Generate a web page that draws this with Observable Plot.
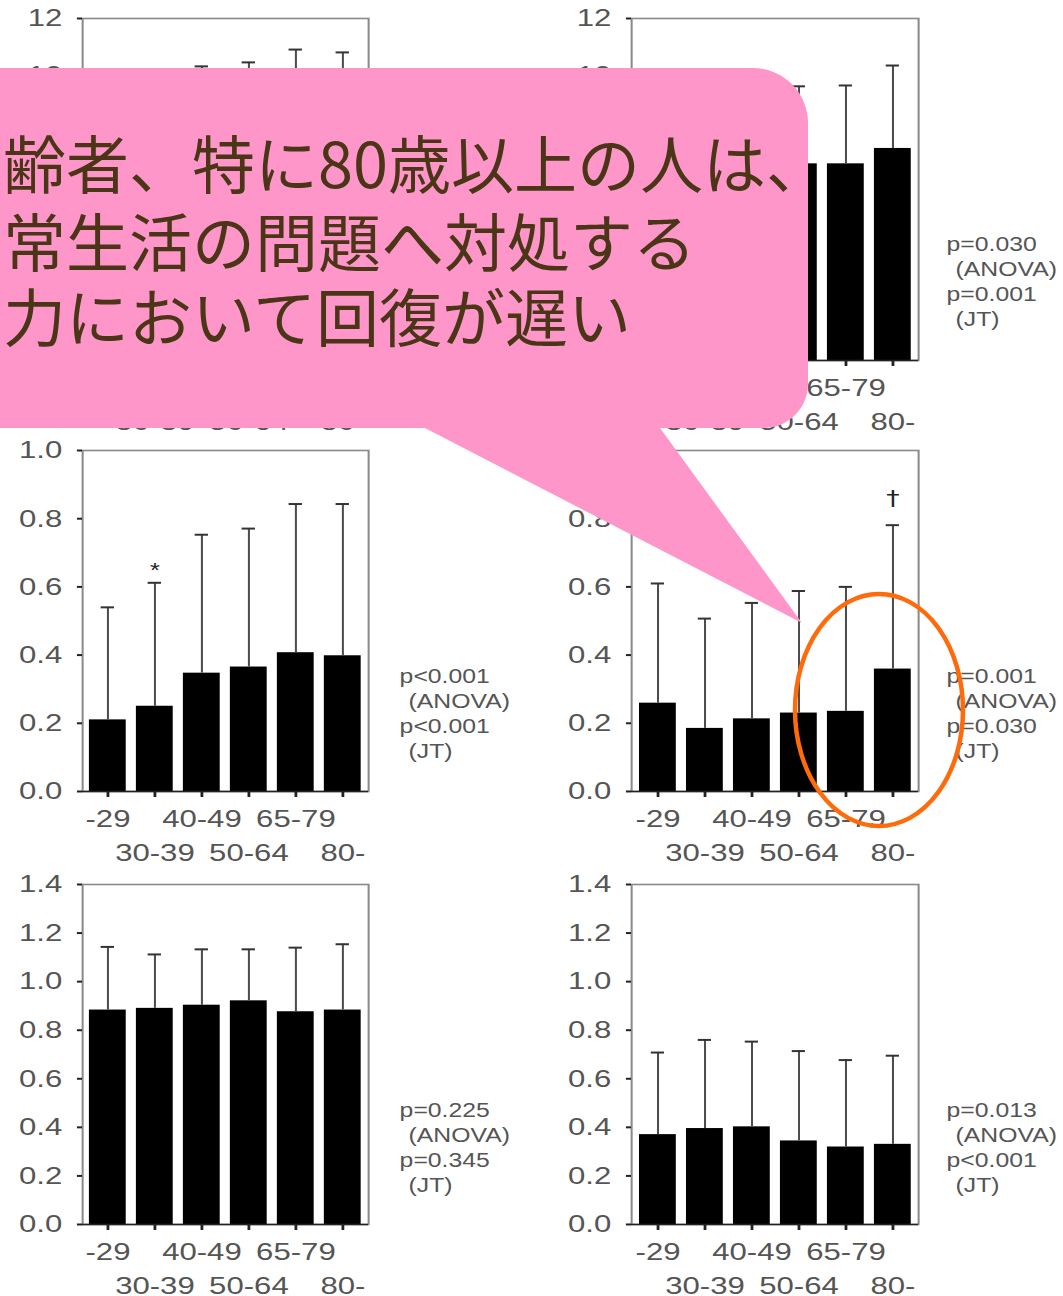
<!DOCTYPE html>
<html>
<head>
<meta charset="utf-8">
<script src="https://cdn.jsdelivr.net/npm/d3@7"></script>
<script src="https://cdn.jsdelivr.net/npm/@observablehq/plot@0.6"></script>
<style>
  html, body { margin: 0; padding: 0; background: #fff; }
  #page { position: relative; width: 1063px; height: 1296px; overflow: hidden; background: #fff; }
  #page svg.panel { position: absolute; transform-origin: 0 0; max-width: none; }
  #overlay { position: absolute; left: 0; top: 0; pointer-events: none; }
</style>
</head>
<body>
<div id="page"></div>
<script>
// ---------- data ----------
const ageGroups = ["-29", "30-39", "40-49", "50-64", "65-79", "80-"];

// top-left panel (mostly hidden behind the callout; estimated)
const topLeftMean = [6.6, 6.9, 7.3, 7.5, 7.9, 7.8];
const topLeftSD   = [3.0, 3.0, 3.02, 2.96, 3.01, 3.01];
// top-right panel
const topRightMean = [6.2, 6.0, 6.5, 6.9, 6.9, 7.44];
const topRightSD   = [2.8, 2.8, 2.8, 2.72, 2.75, 2.91];
const topRightP    = ["p=0.030", "(ANOVA)", "p=0.001", "(JT)"];
// middle-left panel
const midLeftMean = [0.21, 0.25, 0.347, 0.365, 0.407, 0.398];
const midLeftSD   = [0.33, 0.362, 0.406, 0.406, 0.436, 0.445];
const midLeftP    = ["p<0.001", "(ANOVA)", "p<0.001", "(JT)"];
// middle-right panel
const midRightMean = [0.259, 0.185, 0.213, 0.230, 0.235, 0.359];
const midRightSD   = [0.351, 0.322, 0.340, 0.358, 0.365, 0.422];
const midRightP    = ["p=0.001", "(ANOVA)", "p=0.030", "(JT)"];
// bottom-left panel
const botLeftMean = [0.883, 0.890, 0.903, 0.921, 0.876, 0.883];
const botLeftSD   = [0.260, 0.222, 0.230, 0.212, 0.264, 0.271];
const botLeftP    = ["p=0.225", "(ANOVA)", "p=0.345", "(JT)"];
// bottom-right panel
const botRightMean = [0.370, 0.395, 0.402, 0.344, 0.319, 0.330];
const botRightSD   = [0.338, 0.365, 0.351, 0.370, 0.358, 0.365];
const botRightP    = ["p=0.013", "(ANOVA)", "p<0.001", "(JT)"];

// y tick values
const ticksTop = [0, 2, 4, 6, 8, 10, 12];
const ticksTopVisibleLabels = [10, 12]; // the others sit under the callout
const ticksMid = [0, 0.2, 0.4, 0.6, 0.8, 1.0];
const ticksBot = [0, 0.2, 0.4, 0.6, 0.8, 1.0, 1.2, 1.4];

// significance markers
const midLeftMarker  = {group: "30-39", text: "*"};
const midRightMarker = {group: "80-", text: "†"};

// callout text
const calloutLines = ["齢者、特に80歳以上の人は、", "常生活の問題へ対処する", "力において回復が遅い"];

// ---------- layout ----------
const K = 1.27; // horizontal stretch of the original figure
const cols = [
  {svgLeft: 0,   svgWidth: 545, frameL: 82,  frameR: 368, pdx: 31},
  {svgLeft: 545, svgWidth: 518, frameL: 631, frameR: 918, pdx: 28}
];
const rows = [
  {frameT: 18,  frameB: 360},
  {frameT: 450, frameB: 791},
  {frameT: 884, frameB: 1224}
];
const PAD_IN = 0.21, PAD_OUT = 0.12;

const panels = [
  {col: 0, row: 0, mean: topLeftMean,  sd: topLeftSD,  domain: [0, 12],  ticks: ticksTop, labels: ticksTopVisibleLabels, fmt: d3.format("d"), p: null},
  {col: 1, row: 0, mean: topRightMean, sd: topRightSD, domain: [0, 12],  ticks: ticksTop, labels: ticksTopVisibleLabels, fmt: d3.format("d"), p: topRightP},
  {col: 0, row: 1, mean: midLeftMean,  sd: midLeftSD,  domain: [0, 1.0], ticks: ticksMid, labels: ticksMid, fmt: d3.format(".1f"), p: midLeftP,  marker: midLeftMarker,  markerDy: -12, markerSize: 20, markerFont: "'Liberation Sans', Arial, sans-serif"},
  {col: 1, row: 1, mean: midRightMean, sd: midRightSD, domain: [0, 1.0], ticks: ticksMid, labels: ticksMid, fmt: d3.format(".1f"), p: midRightP, marker: midRightMarker, markerDy: -26, markerSize: 21, markerFont: "'DejaVu Sans', sans-serif"},
  {col: 0, row: 2, mean: botLeftMean,  sd: botLeftSD,  domain: [0, 1.4], ticks: ticksBot, labels: ticksBot, fmt: d3.format(".1f"), p: botLeftP},
  {col: 1, row: 2, mean: botRightMean, sd: botRightSD, domain: [0, 1.4], ticks: ticksBot, labels: ticksBot, fmt: d3.format(".1f"), p: botRightP}
];

const page = document.getElementById("page");
const FONT = "'Liberation Sans', Arial, Helvetica, sans-serif";

for (const pn of panels) {
  const c = cols[pn.col], r = rows[pn.row];
  const svgTop = r.frameT - 18;
  const height = r.frameB - svgTop + 76;
  const width = c.svgWidth / K;
  const marginLeft = (c.frameL - c.svgLeft) / K;
  const marginRight = (c.svgLeft + c.svgWidth - c.frameR) / K;
  const frameW = (c.frameR - c.frameL) / K;
  const step = frameW / (ageGroups.length - PAD_IN + 2 * PAD_OUT);
  const bw = step * (1 - PAD_IN);
  const capInset = (bw - 14 / K) / 2;

  const data = ageGroups.map((g, i) => ({age: g, mean: pn.mean[i], sd: pn.sd[i], top: pn.mean[i] + pn.sd[i]}));

  const marks = [
    Plot.frame({stroke: "#8a8a8a", strokeWidth: 1.6}),
    Plot.barY(data, {x: "age", y: "mean", fill: "#000"}),
    Plot.ruleX(data, {x: "age", y1: "mean", y2: "top", stroke: "#4d4d4d", strokeWidth: 1.6}),
    Plot.tickY(data, {x: "age", y: "top", stroke: "#333", strokeWidth: 2, insetLeft: capInset, insetRight: capInset}),
    Plot.ruleY([0], {stroke: "#222", strokeWidth: 1.6}),
    // y tick marks (all) and y tick labels (those not hidden)
    Plot.axisY({ticks: pn.ticks, tickSize: 4, stroke: "#222", strokeWidth: 2, fill: "none", label: null}),
    Plot.axisY({ticks: pn.labels, tickFormat: pn.fmt, tickSize: 0, tickPadding: 16, fill: "#555", fontSize: 24.5, label: null}),
    // x axis: two staggered label rows
    Plot.axisX({ticks: ageGroups.filter((d, i) => i % 2 === 0), tickSize: 6, tickPadding: 12, stroke: "#222", strokeWidth: 2.2, fill: "#555", fontSize: 24.5, label: null}),
    Plot.axisX({ticks: ageGroups.filter((d, i) => i % 2 === 1), tickSize: 6, tickPadding: 46, stroke: "#222", strokeWidth: 2.2, fill: "#555", fontSize: 24.5, label: null})
  ];
  if (pn.marker) {
    const md = data.filter(d => d.age === pn.marker.group);
    marks.push(Plot.text(md, {x: "age", y: "top", text: () => pn.marker.text, dy: pn.markerDy, fontSize: pn.markerSize, fontFamily: pn.markerFont, fill: "#222", lineAnchor: "middle"}));
  }
  if (pn.p) {
    pn.p.forEach((line, i) => {
      marks.push(Plot.text([line], {
        text: d => d, frameAnchor: "top-right", textAnchor: "start", lineAnchor: "middle",
        dx: (c.pdx + (i % 2 === 1 ? 9 : 0)) / K, dy: 226 + 25 * i,
        fontSize: 19.5, fill: "#555"
      }));
    });
  }

  const svg = Plot.plot({
    width, height,
    marginLeft, marginRight, marginTop: 18, marginBottom: 76,
    x: {domain: ageGroups, paddingInner: PAD_IN, paddingOuter: PAD_OUT, label: null},
    y: {domain: pn.domain, label: null},
    style: {fontFamily: FONT, fontSize: "24.5px", background: "transparent", color: "#555", overflow: "visible"},
    marks
  });
  svg.classList.add("panel");
  svg.style.left = c.svgLeft + "px";
  svg.style.top = svgTop + "px";
  svg.style.transform = `scaleX(${K})`;
  page.appendChild(svg);
}

// ---------- callout overlay ----------
const ns = "http://www.w3.org/2000/svg";
const ov = document.createElementNS(ns, "svg");
ov.setAttribute("id", "overlay");
ov.setAttribute("width", 1063);
ov.setAttribute("height", 1296);
ov.setAttribute("viewBox", "0 0 1063 1296");
const path = document.createElementNS(ns, "path");
path.setAttribute("d", "M -20 68 H 753 A 55 55 0 0 1 808 123 V 384 A 44 44 0 0 1 764 428 H 660 L 802 623 L 425 428 H -20 Z");
path.setAttribute("fill", "#ff96c9");
ov.appendChild(path);
const baselines = [188, 266, 341];
const tx = document.createElementNS(ns, "text");
tx.setAttribute("fill", "#4b3517");
tx.setAttribute("font-size", "63");
tx.setAttribute("font-family", "'Noto Sans CJK JP', 'Noto Sans CJK SC', sans-serif");
calloutLines.forEach((t, i) => {
  const ts = document.createElementNS(ns, "tspan");
  ts.setAttribute("x", 3);
  ts.setAttribute("y", baselines[i]);
  ts.textContent = t;
  tx.appendChild(ts);
});
ov.appendChild(tx);
const ell = document.createElementNS(ns, "ellipse");
ell.setAttribute("cx", 879);
ell.setAttribute("cy", 710);
ell.setAttribute("rx", 84);
ell.setAttribute("ry", 116);
ell.setAttribute("fill", "none");
ell.setAttribute("stroke", "#ff6a0a");
ell.setAttribute("stroke-width", 4.5);
ov.appendChild(ell);
page.appendChild(ov);
</script>
</body>
</html>
